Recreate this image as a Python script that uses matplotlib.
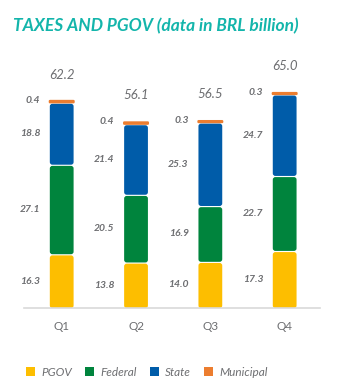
import matplotlib.pyplot as plt
from matplotlib.patches import FancyBboxPatch, Patch

# Quarterly taxes and PGOV, BRL billion
quarters = ['Q1', 'Q2', 'Q3', 'Q4']
pgov = [16.3, 13.8, 14.0, 17.3]
federal = [27.1, 20.5, 16.9, 22.7]
state = [18.8, 21.4, 25.3, 24.7]
municipal = [0.4, 0.4, 0.3, 0.3]
totals = [62.2, 56.1, 56.5, 65.0]

series = [('PGOV', pgov, '#FDBE00'),
          ('Federal', federal, '#00843D'),
          ('State', state, '#005CA9'),
          ('Municipal', municipal, '#EC7D2F')]

grey = '#6D6E71'
plt.rcParams['font.family'] = ['Lato', 'DejaVu Sans']

fig = plt.figure(figsize=(3.4, 3.88), dpi=100)
ax = fig.add_axes([0.07, 0.206, 0.87, 0.613])
xmin, xmax = -0.51, 3.47
ymin, ymax = 0, 72
ax.set_xlim(xmin, xmax)
ax.set_ylim(ymin, ymax)

# aspect so the rounded corners look round on screen
ax_w = 0.87 * 340
ax_h = 0.613 * 388
aspect = ((ymax - ymin) / ax_h) / ((xmax - xmin) / ax_w)

width = 0.32
gap = 0.35
for i, q in enumerate(quarters):
    bottom = 0
    for name, vals, color in series:
        v = vals[i]
        if name == 'Municipal':
            h = v
            box = FancyBboxPatch((i - width / 2, bottom + 0.1), width, h,
                                 boxstyle='round,pad=0,rounding_size=0.004',
                                 mutation_aspect=aspect, facecolor=color,
                                 edgecolor=color, linewidth=1.6)
        else:
            h = v - gap
            box = FancyBboxPatch((i - width / 2, bottom), width, h,
                                 boxstyle='round,pad=0,rounding_size=0.035',
                                 mutation_aspect=aspect, facecolor=color,
                                 edgecolor='none', linewidth=0)
        ax.add_patch(box)
        ly = bottom + v / 2 if name != 'Municipal' else bottom + 0.7
        ax.text(i - width / 2 - 0.13, ly, f'{v:.1f}', ha='right', va='center',
                fontsize=7.5, fontweight='bold', style='italic', color=grey)
        bottom += v
    ax.text(i, totals[i] + 6.5, f'{totals[i]:.1f}', ha='center', va='bottom',
            fontsize=9.5, style='italic', color=grey, clip_on=False)

for s in ['top', 'right', 'left']:
    ax.spines[s].set_visible(False)
ax.spines['bottom'].set_color('#D9D9D9')
ax.spines['bottom'].set_linewidth(1.2)
ax.set_yticks([])
ax.set_xticks(range(len(quarters)))
ax.set_xticklabels(quarters, fontsize=8.5, color=grey)
ax.tick_params(axis='x', length=0, pad=9)

fig.text(0.038, 0.933, 'TAXES AND PGOV (data in BRL billion)', fontsize=12.5,
         fontweight='bold', style='italic', color='#13B5AB', va='center')

handles = [Patch(facecolor=c, edgecolor='none') for _, _, c in series]
leg = fig.legend(handles, [n for n, _, _ in series], loc='center left',
                 bbox_to_anchor=(0.045, 0.04), ncol=4, frameon=False,
                 handlelength=0.8, handleheight=0.8, handletextpad=0.5,
                 columnspacing=1.1, prop={'size': 8.5, 'style': 'italic'})
for t in leg.get_texts():
    t.set_color(grey)

fig.savefig('out.png', dpi=100)
